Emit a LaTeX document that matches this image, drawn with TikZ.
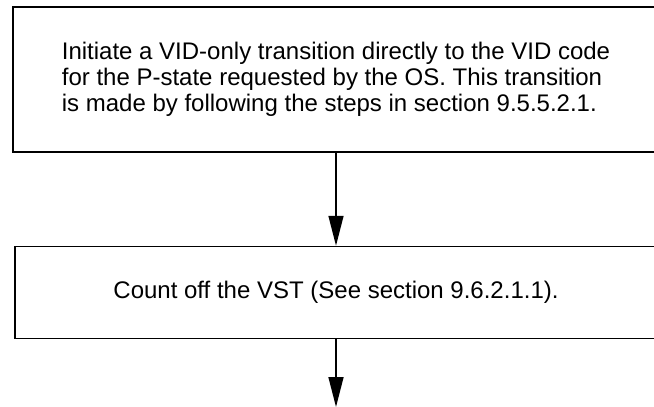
\documentclass[tikz,border=0pt]{standalone}
\usepackage{fontspec}
\setmainfont{Liberation Sans}
\usetikzlibrary{positioning, arrows.meta}

\begin{document}
\begin{tikzpicture}[
    x=1pt, y=1pt,
    >={Triangle[length=30pt, width=15pt]},
    line width=1.5pt,
    arrow/.style={
        ->,
        line width=1.5pt
    },
    stepbox/.style={
        rectangle,
        draw,
        line width=1.5pt,
        inner sep=0pt,
        align=left,
        font=\fontsize{24pt}{26pt}\selectfont
    }
]
    \useasboundingbox (0,0) rectangle (654,-407);
    \clip (0,0) rectangle (654,-407);

    % VID transition
    \node[stepbox, minimum width=646pt, minimum height=145pt] (vid) at (336,-79.5)
        {Initiate a VID-only transition directly to the VID code\\
         for the P-state requested by the OS. This transition\\
         is made by following the steps in section 9.5.5.2.1.};

    % VST
    \node[stepbox, minimum width=642pt, minimum height=92pt, below=93pt of vid] (vst)
        {Count off the VST (See section 9.6.2.1.1).};

    \coordinate (next) at (vst.south |- 0,-407);

    % Connections
    \draw[arrow] (vid) -- (vst);
    \draw[arrow] (vst) -- (next);

\end{tikzpicture}
\end{document}
